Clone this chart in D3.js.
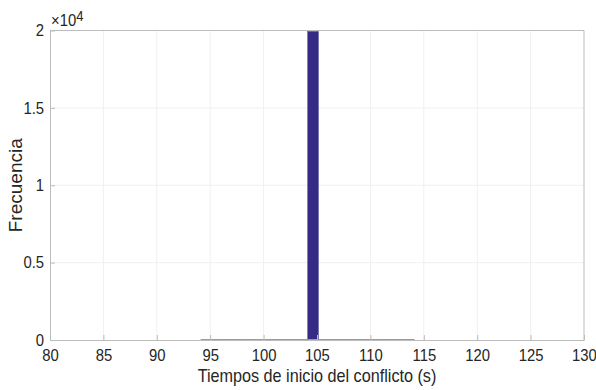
<!DOCTYPE html>
<html>
<head>
<meta charset="utf-8">
<script src="https://cdn.jsdelivr.net/npm/d3@7"></script>
<style>
  html, body { margin: 0; padding: 0; background: #fff; }
  svg { display: block; }
  text { font-family: "Liberation Sans", Arial, Helvetica, sans-serif; fill: #262626; }
</style>
</head>
<body>
<svg id="chart" width="596" height="390"></svg>
<script>
// Histogram bins: left edges (s) and counts
const binEdges = [94.13, 95.13, 96.13, 97.13, 98.13, 99.13, 100.13, 101.13, 102.13, 103.13,
                  104.13, 105.13, 106.13, 107.13, 108.13, 109.13, 110.13, 111.13, 112.13, 113.13, 114.13];
const counts   = [2, 1, 2, 3, 2, 4, 3, 5, 6, 8,
                  19940, 7, 5, 4, 3, 2, 3, 1, 2, 1];

const xTicks = [80, 85, 90, 95, 100, 105, 110, 115, 120, 125, 130];
const yTicks = [0, 0.5, 1, 1.5, 2];          // in units of 10^4
const xDomain = [80, 130];
const yDomain = [0, 20000];

const W = 596, H = 390;
const m = { left: 50, right: 12, top: 30.5, bottom: 50 };
const svg = d3.select("#chart");

const x = d3.scaleLinear().domain(xDomain).range([m.left, W - m.right]);
const y = d3.scaleLinear().domain(yDomain).range([H - m.bottom, m.top]);

const squeeze = 0.9; // narrow glyph width of the horizontal labels

const plot = svg.append("g");

// grid
plot.append("g").selectAll("line").data(xTicks.slice(1, -1)).join("line")
  .attr("x1", d => x(d)).attr("x2", d => x(d))
  .attr("y1", y(yDomain[0])).attr("y2", y(yDomain[1]))
  .attr("stroke", "#f0f0f0").attr("stroke-width", 1);
plot.append("g").selectAll("line").data(yTicks.slice(1, -1)).join("line")
  .attr("y1", d => y(d * 1e4)).attr("y2", d => y(d * 1e4))
  .attr("x1", x(xDomain[0])).attr("x2", x(xDomain[1]))
  .attr("stroke", "#f0f0f0").attr("stroke-width", 1);

// bars
const bins = counts.map((c, i) => ({ x0: binEdges[i], x1: binEdges[i + 1], n: c }));
plot.append("g").selectAll("rect").data(bins).join("rect")
  .attr("x", d => x(d.x0))
  .attr("width", d => x(d.x1) - x(d.x0))
  .attr("y", d => y(d.n))
  .attr("height", d => y(0) - y(d.n))
  .attr("fill", "#352a86")
  .attr("stroke", "#4d4590")
  .attr("stroke-width", 0.5);

// low-count bins only show as a darker edge on the baseline
plot.append("g").selectAll("line").data(bins).join("line")
  .attr("x1", d => x(d.x0)).attr("x2", d => x(d.x1))
  .attr("y1", y(0) - 0.5).attr("y2", y(0) - 0.5)
  .attr("stroke", "#9a9aa4").attr("stroke-width", 1);

// axes
const xAxis = d3.axisBottom(x).tickValues(xTicks).tickSizeInner(-5).tickSizeOuter(0).tickPadding(9)
  .tickFormat(d3.format("d"));
const gx = svg.append("g").attr("transform", `translate(0,${y(0)})`).call(xAxis);
const yAxis = d3.axisLeft(y).tickValues(yTicks.map(d => d * 1e4)).tickSizeInner(-5).tickSizeOuter(0).tickPadding(6)
  .tickFormat(d => String(d / 1e4));
const gy = svg.append("g").attr("transform", `translate(${x(xDomain[0])},0)`).call(yAxis);

[gx, gy].forEach(g => {
  g.select(".domain").attr("stroke", "#bcbcbc");
  g.selectAll(".tick line").attr("stroke", "#bcbcbc");
  g.selectAll(".tick text").attr("font-size", 16.5).attr("fill", "#262626");
});
gx.selectAll(".tick text").attr("transform", `scale(${squeeze},1)`);
gy.selectAll(".tick text").each(function () {
  const t = d3.select(this);
  t.attr("x", +t.attr("x") / squeeze).attr("transform", `scale(${squeeze},1)`);
});

// top and right box edges
svg.append("line").attr("x1", x(xDomain[0])).attr("x2", x(xDomain[1]))
  .attr("y1", y(yDomain[1])).attr("y2", y(yDomain[1])).attr("stroke", "#bcbcbc");
svg.append("line").attr("x1", x(xDomain[1])).attr("x2", x(xDomain[1]))
  .attr("y1", y(yDomain[1])).attr("y2", y(yDomain[0])).attr("stroke", "#bcbcbc");

// exponent label
const ex = svg.append("text")
  .attr("transform", `translate(${x(xDomain[0]) + 1},${y(yDomain[1]) - 4.5}) scale(${squeeze},1)`)
  .attr("font-size", 16.5);
ex.append("tspan").text("×10");
ex.append("tspan").attr("font-size", 14.5).attr("dy", -5).text("4");

// axis titles
svg.append("text")
  .attr("transform", `translate(${(x(xDomain[0]) + x(xDomain[1])) / 2},${H - 8}) scale(${squeeze},1)`)
  .attr("text-anchor", "middle").attr("font-size", 18)
  .text("Tiempos de inicio del conflicto (s)");
svg.append("text")
  .attr("transform", `translate(22,${(y(yDomain[0]) + y(yDomain[1])) / 2}) rotate(-90)`)
  .attr("text-anchor", "middle").attr("font-size", 19)
  .text("Frecuencia");
</script>
</body>
</html>
